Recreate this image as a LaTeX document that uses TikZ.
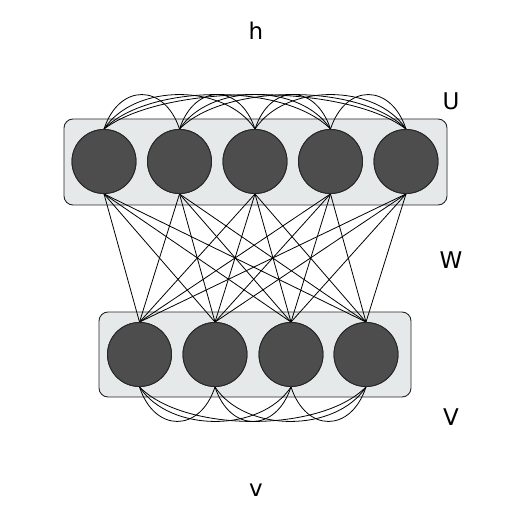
\documentclass[tikz,border=0pt]{standalone}
\usepackage{fontspec}
\setmainfont{DejaVu Sans}
\begin{document}
\begin{tikzpicture}[x=1pt,y=-1pt,
  unit/.style={circle,draw=black!85,line width=0.9pt,fill=unitgray,minimum size=64pt,inner sep=0pt},
  layerbox/.style={draw=black!85,line width=0.9pt,fill=boxgray,rounded corners=9pt},
  conn/.style={draw=black,line width=0.8pt},
  lbl/.style={font=\fontsize{23}{26}\selectfont}]
\definecolor{unitgray}{HTML}{4D4D4D}
\definecolor{boxgray}{HTML}{E6E9EA}
\useasboundingbox (0,0) rectangle (523,526);
% boxes
\draw[layerbox] (64,119) rectangle (447,205);
\draw[layerbox] (99,312) rectangle (411,397);
% unit coordinates
\foreach \i/\x in {1/104,2/179.5,3/255,4/330.5,5/406}{
  \coordinate (tc\i) at (\x,161.5);
}
\foreach \i/\x in {1/139.5,2/215,3/291,4/366}{
  \coordinate (bc\i) at (\x,354.5);
}
% nodes
\foreach \i in {1,...,5}{ \node[unit] (t\i) at (tc\i) {}; }
\foreach \i in {1,...,4}{ \node[unit] (b\i) at (bc\i) {}; }
% W connections
\foreach \i in {1,...,5}{
  \foreach \j in {1,...,4}{
    \draw[conn] (t\i.south) -- (b\j.north);
  }
}
% U arcs
\foreach \i in {1,...,4}{
  \pgfmathtruncatemacro{\s}{\i+1}
  \foreach \j in {\s,...,5}{
    \pgfmathsetmacro{\d}{0.2*75.5*(\j-\i)}
    \draw[conn] (t\i.north) .. controls +(\d,-46) and +(-\d,-46) .. (t\j.north);
  }
}
% V arcs
\foreach \i in {1,...,3}{
  \pgfmathtruncatemacro{\s}{\i+1}
  \foreach \j in {\s,...,4}{
    \pgfmathsetmacro{\d}{0.2*75.5*(\j-\i)}
    \draw[conn] (b\i.south) .. controls +(\d,46) and +(-\d,46) .. (b\j.south);
  }
}
% redraw units on top
\foreach \i in {1,...,5}{ \node[unit] at (tc\i) {}; }
\foreach \i in {1,...,4}{ \node[unit] at (bc\i) {}; }
% labels
\node[lbl] (lh) at (256,31) {h};
\node[lbl] (lU) at (451,101) {U};
\node[lbl] (lW) at (451,260) {W};
\node[lbl] (lV) at (451,417) {V};
\node[lbl] (lv) at (256,490) {v};
\end{tikzpicture}
\end{document}
